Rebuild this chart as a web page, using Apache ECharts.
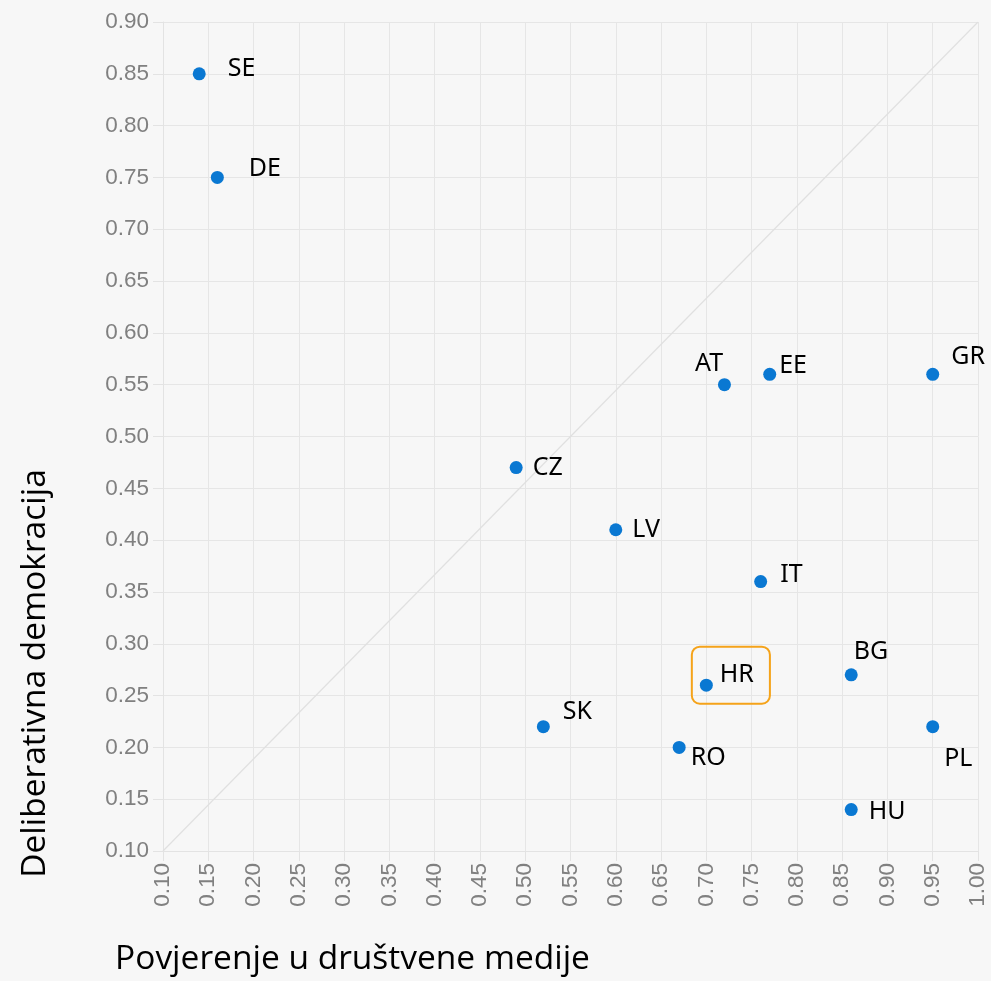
<!DOCTYPE html>
<html><head><meta charset="utf-8">
<script src="https://cdn.jsdelivr.net/npm/echarts@6/dist/echarts.min.js"></script>
<style>html,body{margin:0;padding:0;background:#f7f7f7}#c{width:991px;height:981px}</style>
</head><body><div id="c"></div>
<script>
const countries = ['SE','DE','AT','EE','GR','CZ','LV','IT','BG','HR','SK','RO','PL','HU'];
const trustSocialMedia = [0.14,0.16,0.72,0.77,0.95,0.49,0.60,0.76,0.86,0.70,0.52,0.67,0.95,0.86];
const deliberativeDemocracy = [0.85,0.75,0.55,0.56,0.56,0.47,0.41,0.36,0.27,0.26,0.22,0.20,0.22,0.14];
const labelOffsets = {SE:[17,-5],DE:[20,-9],AT:[-41,-21],EE:[-2,-8],GR:[7,-17],CZ:[5,0],LV:[5,0],IT:[8,-7],BG:[-9,-23],HR:[-26,-10],SK:[8,-15],RO:[0,10],PL:[0,32],HU:[6,2]};
const highlighted = 'HR';
const diagonal = [[0.10,0.10],[1.00,0.90]];

const pts = countries.map((c,i)=>{
  const item = {name:c, value:[trustSocialMedia[i], deliberativeDemocracy[i]],
    label:{offset:labelOffsets[c]}};
  if(c===highlighted){
    item.label = {offset:labelOffsets[c], borderColor:'#f5a31a', borderWidth:2, borderRadius:8,
      padding:[10,16,17,28], lineHeight:30};
  }
  return item;
});

const axisLabelStyle = {color:'#808080', fontSize:22.5, fontFamily:'Liberation Sans', formatter:v=>v.toFixed(2)};
const chart = echarts.init(document.getElementById('c'));
chart.setOption({
  backgroundColor:'#f7f7f7',
  animation:false,
  grid:{left:163, right:13, top:22, bottom:126},
  xAxis:{type:'value', min:0.1, max:1.0, interval:0.05,
    name:'Povjerenje u društvene medije', nameLocation:'middle', nameGap:91,
    nameTextStyle:{color:'#000', fontSize:33.5, fontFamily:'Open Sans', padding:[0,436,0,0]},
    axisLine:{show:true, lineStyle:{color:'#e3e3e3'}},
    axisTick:{show:true, length:10, lineStyle:{color:'#e3e3e3'}},
    splitLine:{lineStyle:{color:'#e6e6e6'}},
    axisLabel:Object.assign({rotate:90, margin:12}, axisLabelStyle)},
  yAxis:{type:'value', min:0.1, max:0.9, interval:0.05,
    name:'Deliberativna demokracija', nameLocation:'middle', nameGap:111, nameRotate:90,
    nameTextStyle:{color:'#000', fontSize:33.5, fontFamily:'Open Sans', padding:[0,474,0,0]},
    axisLine:{show:true, lineStyle:{color:'#e3e3e3'}},
    axisTick:{show:true, length:10, lineStyle:{color:'#e3e3e3'}},
    splitLine:{lineStyle:{color:'#e6e6e6'}},
    axisLabel:Object.assign({margin:14}, axisLabelStyle)},
  series:[
    {type:'line', data:diagonal, symbol:'none', silent:true,
      lineStyle:{color:'#e0e0e0', width:1.2}, z:1},
    {type:'scatter', data:pts, symbolSize:13, itemStyle:{color:'#0a78d2', opacity:1}, z:3,
      label:{show:true, position:'right', distance:5, formatter:'{b}', color:'#000',
        fontSize:25, fontFamily:'Noto Sans'}}
  ]
});
</script></body></html>
